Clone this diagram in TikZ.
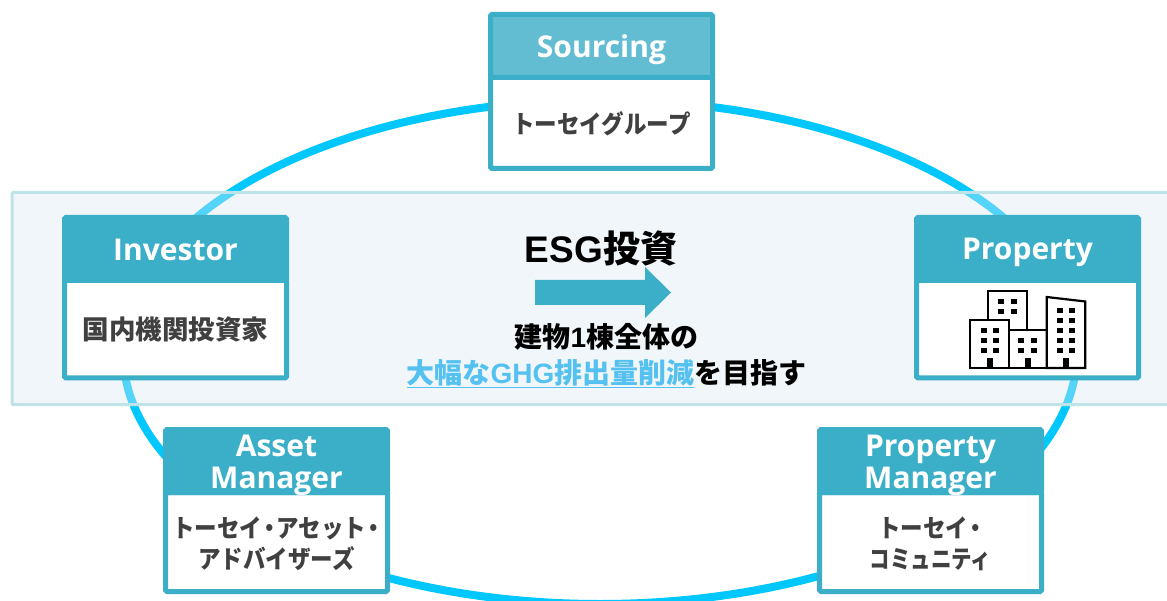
\documentclass[tikz,border=0pt]{standalone}
\usepackage{fontspec}
\usepackage{xcolor}
\usepackage{tikz}
\usetikzlibrary{positioning}
\setmainfont{Open Sans}
\newfontfamily\jpfont{Noto Sans CJK JP}
\newfontfamily\kanafont[FakeStretch=0.9]{Noto Sans CJK JP}
\newfontfamily\narrowfont[FakeStretch=0.82]{Noto Sans CJK JP}
\newfontfamily\arialfont{Liberation Sans}
\definecolor{ringblue}{HTML}{00C8FF}
\definecolor{boxteal}{HTML}{3CAFC8}
\definecolor{softteal}{HTML}{62BDD2}
\definecolor{bandfill}{HTML}{DAE8F0}
\definecolor{bandline}{HTML}{BFE3E6}
\definecolor{bodytext}{HTML}{404040}
\definecolor{goalblue}{HTML}{55C1F0}
\newcommand{\middot}{\kern-4pt・\kern-4pt}
\tikzset{
    headbox/.style={draw=boxteal, fill=boxteal, line width=5pt, rounded corners=1.5pt, minimum width=222pt, minimum height=63pt, inner sep=0pt, outer sep=0pt, text=white, align=center, font=\fontsize{30}{32.5}\selectfont\bfseries},
    bodybox/.style={draw=boxteal, fill=white, line width=5pt, rounded corners=1.5pt, minimum width=222pt, inner sep=0pt, outer sep=0pt, text=bodytext, align=center, font=\fontsize{25}{31}\selectfont\kanafont\bfseries},
    plain/.style={inner sep=0pt, outer sep=0pt, align=center, text=black}
}
\begin{document}
\begin{tikzpicture}[x=1pt, y=-1pt]
    \clip (0,0) rectangle (1167,601);
    \fill[white] (0,0) rectangle (1167,601);
    \draw[ringblue, line width=8pt] (600,352) ellipse [x radius=477pt, y radius=252pt];
    \draw[bandline, fill=bandfill, line width=3pt, fill opacity=0.39, rounded corners=1pt] (12,192.5) rectangle (1180,404.5);
    % boxes
    \node[bodybox, minimum height=91pt, text height=22pt, text depth=0pt] (sourcingbody) at (601.5,123) {トーセイグループ};
    \node[headbox, fill=softteal, text height=23pt, text depth=0pt, above=0pt of sourcingbody] (sourcinghead) {Sourcing};
    \node[bodybox, minimum height=97.5pt, font=\fontsize{26.5}{31}\selectfont\jpfont\bfseries] (investorbody) at (175.5,329.25) {国内機関投資家};
    \node[headbox, text height=23pt, text depth=0pt, above=0pt of investorbody] (investorhead) {Investor};
    \node[bodybox, minimum height=97.5pt] (propertybody) at (1027.5,329.25) {};
    \node[headbox, text height=22pt, text depth=0pt, above=0pt of propertybody] (propertyhead) {Property};
    \node[bodybox, minimum height=99pt, text height=54pt, text depth=2pt] (assetbody) at (276.5,542) {トーセイ\middot アセット\middot\\アドバイザーズ};
    \node[headbox, text height=56pt, text depth=1pt, above=0pt of assetbody] (assethead) {Asset\\Manager};
    \node[bodybox, minimum height=99pt, text height=54pt, text depth=2pt] (managerbody) at (930.5,542) {トーセイ\middot\\{\narrowfont コミュニティ}};
    \node[headbox, text height=56pt, text depth=1pt, above=0pt of managerbody] (managerhead) {Property\\Manager};
    % centre
    \node[plain, font=\fontsize{37}{40}\selectfont\bfseries] (esgtitle) at (601,249) {{\arialfont ESG}{\jpfont 投資}};
    \fill[boxteal] (535,280) -- (645,280) -- (645,267) -- (671,292.5) -- (645,318) -- (645,305) -- (535,305) -- cycle;
    \node[plain, font=\fontsize{28}{36}\selectfont\jpfont\bfseries] (goaltext) at (606.5,355.5) {建物{\arialfont 1}棟全体の\\{\color{goalblue}\underline{大幅な{\arialfont GHG}排出量削減}}を目指す};
    % buildings
    \draw[black, line width=2.2pt] (988,330) -- (988,291) -- (1027,291) -- (1027,330);
    \draw[black, line width=2.2pt, fill=white] (970.3,368) -- (970.3,320) -- (1009,320) -- (1009,368) -- cycle;
    \draw[black, line width=2.2pt, fill=white] (1009,368) -- (1009,330) -- (1046.7,330) -- (1046.7,368) -- cycle;
    \draw[black, line width=2.2pt, fill=white] (1046.7,368) -- (1046.7,297) -- (1085.3,301.5) -- (1085.3,368) -- cycle;
    \fill[black] (998,299.5) rectangle ++(6,5);
    \fill[black] (1011,299.5) rectangle ++(6,5);
    \fill[black] (998,309) rectangle ++(6,5);
    \fill[black] (1011,309) rectangle ++(6,5);
    \fill[black] (981,328) rectangle ++(6,5);
    \fill[black] (993,328) rectangle ++(6,5);
    \fill[black] (981,338) rectangle ++(6,5);
    \fill[black] (993,338) rectangle ++(6,5);
    \fill[black] (981,348) rectangle ++(6,5);
    \fill[black] (993,348) rectangle ++(6,5);
    \fill[black] (1018,338) rectangle ++(6,5);
    \fill[black] (1031,338) rectangle ++(6,5);
    \fill[black] (1018,348) rectangle ++(6,5);
    \fill[black] (1031,348) rectangle ++(6,5);
    \fill[black] (1056.5,308) rectangle ++(6,5);
    \fill[black] (1069,308) rectangle ++(6,5);
    \fill[black] (1056.5,318) rectangle ++(6,5);
    \fill[black] (1069,318) rectangle ++(6,5);
    \fill[black] (1056.5,328) rectangle ++(6,5);
    \fill[black] (1069,328) rectangle ++(6,5);
    \fill[black] (1056.5,338) rectangle ++(6,5);
    \fill[black] (1069,338) rectangle ++(6,5);
    \fill[black] (1056.5,348) rectangle ++(6,5);
    \fill[black] (1069,348) rectangle ++(6,5);
    \fill[black] (987,358.5) rectangle ++(6,9.5);
    \fill[black] (1024.5,358.5) rectangle ++(6,9.5);
    \fill[black] (1062.5,358.5) rectangle ++(6,9.5);
\end{tikzpicture}
\end{document}
